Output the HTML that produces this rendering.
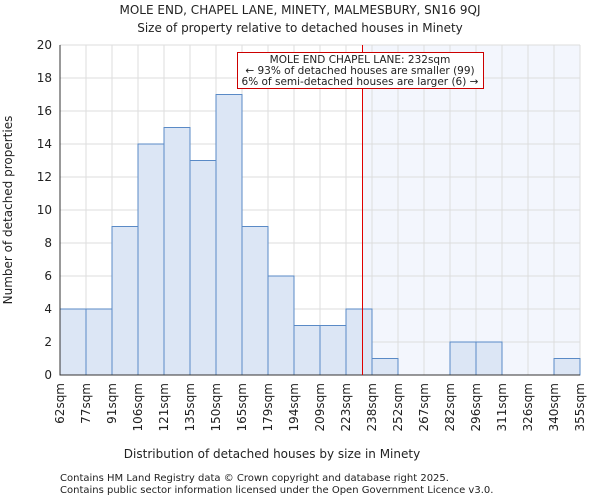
<!DOCTYPE html>
<html><head><meta charset="utf-8"><style>
body{margin:0;background:#fff;font-family:"DejaVu Sans","Liberation Sans",sans-serif;}
svg text{font-family:"DejaVu Sans","Liberation Sans",sans-serif;fill:#222;}
</style></head><body>
<svg id="chart" width="600" height="500" xmlns="http://www.w3.org/2000/svg">
<text x="300" y="14" font-size="12" text-anchor="middle">MOLE END, CHAPEL LANE, MINETY, MALMESBURY, SN16 9QJ</text>
<text x="300" y="32" font-size="12" text-anchor="middle">Size of property relative to detached houses in Minety</text>
<g id="plot"></g>
<text x="272" y="458" font-size="12" text-anchor="middle">Distribution of detached houses by size in Minety</text>
<text transform="translate(12,210) rotate(-90)" font-size="12" text-anchor="middle">Number of detached properties</text>
<text x="60" y="481" font-size="10">Contains HM Land Registry data © Crown copyright and database right 2025.</text>
<text x="60" y="493" font-size="10">Contains public sector information licensed under the Open Government Licence v3.0.</text>
</svg>
<script>
const categories=["62sqm","77sqm","91sqm","106sqm","121sqm","135sqm","150sqm","165sqm","179sqm","194sqm","209sqm","223sqm","238sqm","252sqm","267sqm","282sqm","296sqm","311sqm","326sqm","340sqm","355sqm"];
const counts=[4,4,9,14,15,13,17,9,6,3,3,4,1,0,0,2,2,0,0,1];
const yTicks=[0,2,4,6,8,10,12,14,16,18,20];
const markerIndex=11.6;
const X0=60,X1=580,Y0=375,Y1=45,YMAX=20;
const bw=(X1-X0)/counts.length;
const xs=i=>X0+i*bw;
const ys=v=>Y0-(Y0-Y1)*v/YMAX;
const NS="http://www.w3.org/2000/svg";
const g=document.getElementById('plot');
function mk(t,a){const e=document.createElementNS(NS,t);for(const k in a)e.setAttribute(k,a[k]);g.appendChild(e);return e;}
const mx=Math.round(xs(markerIndex))+0.5;
let e=mk('rect',{x:mx,y:Y1,width:X1-mx,height:Y0-Y1,fill:'#f3f6fd'});


yTicks.forEach(v=>{
 let l=mk('line',{x1:X0,x2:X1,y1:ys(v),y2:ys(v),stroke:'#dddddd','stroke-width':1});
 
 
 let t=mk('text',{x:X0-8,y:ys(v)+4,'font-size':12,'text-anchor':'end'});t.textContent=v;
 
 
});
categories.forEach((c,i)=>{
 let l=mk('line',{x1:xs(i),x2:xs(i),y1:Y1,y2:Y0,stroke:'#dddddd','stroke-width':1});
 
 
 let t=mk('text',{transform:`translate(${xs(i)+4},${Y0+8}) rotate(-90)`,'font-size':12,'text-anchor':'end'});t.textContent=c;
 
 
});
counts.forEach((v,i)=>{
 if(v<=0)return;
 let r=mk('rect',{x:xs(i),y:ys(v),width:bw,height:Y0-ys(v),fill:'#dce6f5',stroke:'#5a8ac6','stroke-width':1});
 
 
});
let ax=mk('path',{d:`M${X0},${Y1}V${Y0}H${X1}`,fill:'none',stroke:'#333','stroke-width':1});


let ml=mk('line',{x1:mx,x2:mx,y1:Y1,y2:Y0,stroke:'#e00000','stroke-width':1});


let box=mk('rect',{x:237.5,y:52.5,width:246,height:36,fill:'#fff',stroke:'#cc0000','stroke-width':1});


["MOLE END CHAPEL LANE: 232sqm","← 93% of detached houses are smaller (99)","6% of semi-detached houses are larger (6) →"].forEach((s,i)=>{
 let t=mk('text',{x:360,y:63+i*11,'font-size':10.5,'text-anchor':'middle'});t.textContent=s;
 
 
});
</script>
</body></html>
